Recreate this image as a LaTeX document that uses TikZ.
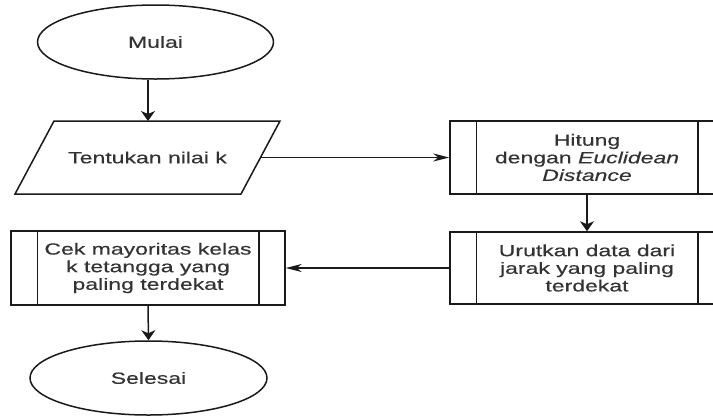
\documentclass[tikz,border=0pt]{standalone}
\usepackage{fontspec}
\setmainfont[FakeStretch=1.42,FakeBold=0.4]{Liberation Sans}
\usetikzlibrary{arrows.meta,shapes.geometric}
\definecolor{txt}{HTML}{333333}
\definecolor{ln}{HTML}{1A1A1A}
\tikzset{
  base/.style={draw=ln, line width=1.5pt, text=txt, font=\fontsize{16.2}{17.6}\selectfont, align=center, inner sep=0pt},
  term/.style={base, ellipse, minimum width=236pt, minimum height=74pt},
  procbox/.style={base, rectangle, minimum width=274pt, minimum height=73pt},
  inner/.style={draw=ln, line width=1.5pt},
  varrow/.style={draw=ln, line width=1.5pt, -{Stealth[length=10pt,width=14pt,inset=3pt]}},
  harrow/.style={draw=ln, line width=1.5pt, -{Stealth[length=16pt,width=8pt,inset=5pt]}}
}
\begin{document}
\begin{tikzpicture}[x=1pt,y=-1pt]
\useasboundingbox (0,0) rectangle (713,416);
\clip (0,0) rectangle (713,416);
\fill[white] (0,0) rectangle (713,416);

% start
\node[term] (mulai) at (155.5,42) {Mulai};

% input parallelogram
\draw[inner] (15,194) -- (54,121) -- (280,121) -- (241,194) -- cycle;
\node[base, draw=none] (para) at (147.5,157.5) {Tentukan nilai k};
\coordinate (paratop) at (148,121);
\coordinate (pararight) at (261,157.5);

% processes
\node[procbox] (hit) at (587,157.5) {Hitung\\dengan \textit{Euclidean}\\\textit{Distance}};
\draw[inner] ([xshift=27pt]hit.north west) -- ([xshift=27pt]hit.south west);
\draw[inner] ([xshift=-27pt]hit.north east) -- ([xshift=-27pt]hit.south east);

\node[procbox, minimum height=72pt] (urut) at (587,268) {Urutkan data dari\\jarak yang paling\\terdekat};
\draw[inner] ([xshift=27pt]urut.north west) -- ([xshift=27pt]urut.south west);
\draw[inner] ([xshift=-27pt]urut.north east) -- ([xshift=-27pt]urut.south east);

\node[procbox, minimum height=74pt] (cek) at (148,268) {Cek mayoritas kelas\\k tetangga yang\\paling terdekat};
\draw[inner] ([xshift=27pt]cek.north west) -- ([xshift=27pt]cek.south west);
\draw[inner] ([xshift=-27pt]cek.north east) -- ([xshift=-27pt]cek.south east);

% end
\node[term, minimum width=237pt] (sel) at (148.5,378) {Selesai};

% connectors
\draw[varrow] (paratop |- mulai.south) -- (paratop);
\draw[harrow] (pararight) -- (hit.west);
\draw[varrow] (hit.south) -- (urut.north);
\draw[harrow] (urut.west) -- (cek.east);
\draw[varrow] (cek.south) -- (sel.north);
\end{tikzpicture}
\end{document}
